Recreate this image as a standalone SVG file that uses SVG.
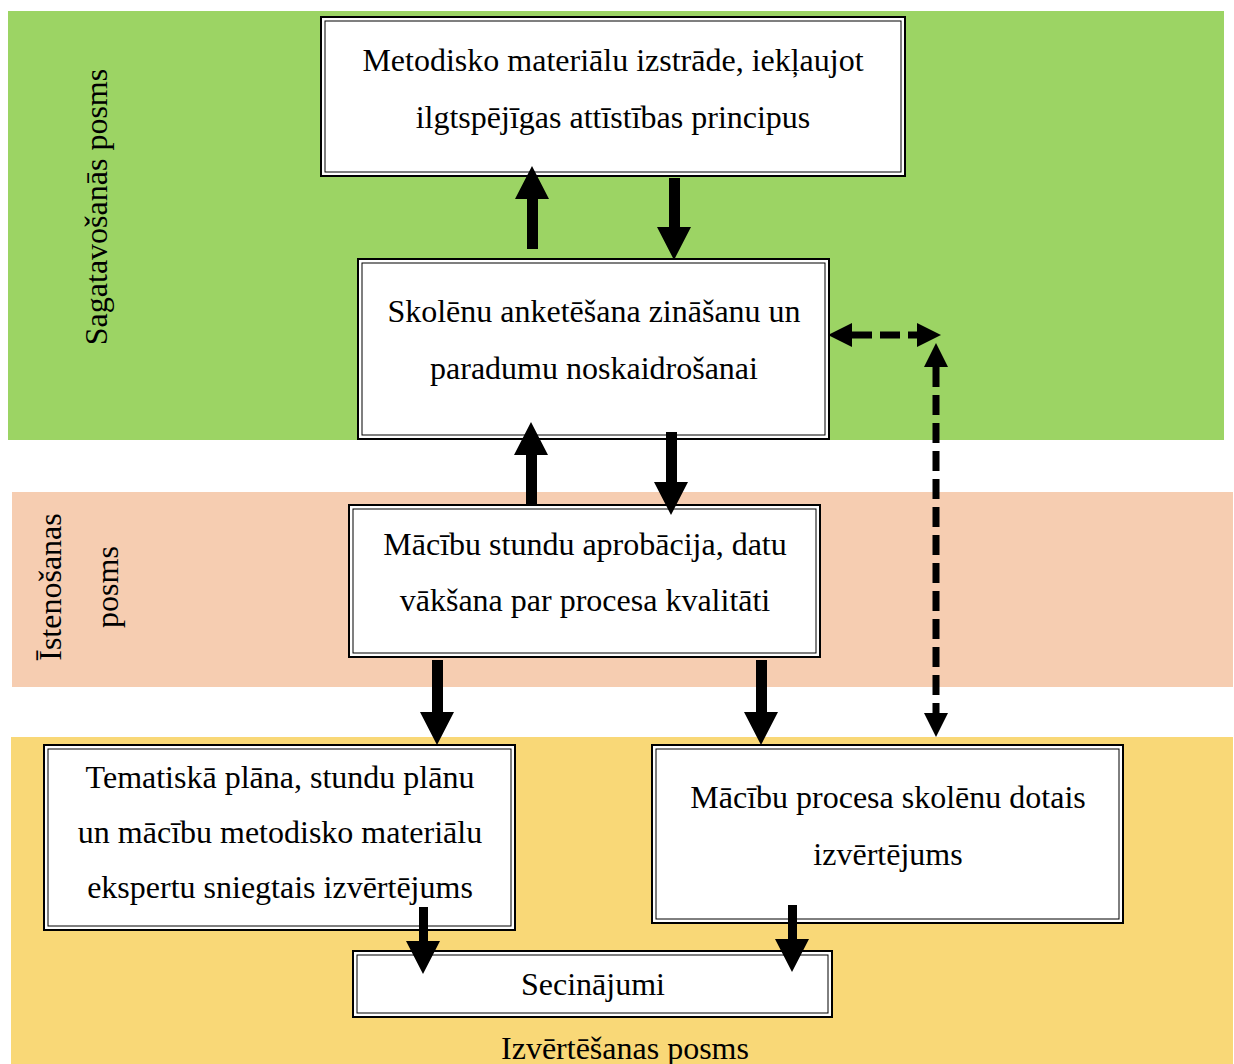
<svg xmlns="http://www.w3.org/2000/svg" width="1234" height="1064" viewBox="0 0 1234 1064">
<style>
.band-g{fill:#9cd464}
.band-p{fill:#f6cdb1}
.band-y{fill:#f9d877}
.box-o{fill:#fff;stroke:#000;stroke-width:2}
.box-i{fill:none;stroke:#000;stroke-width:1}
text{font-family:"Liberation Serif","Times New Roman",serif;font-size:32px;fill:#000}
.c{text-anchor:middle}
.arrow{fill:#000}
.dash{stroke:#000;stroke-width:7;stroke-dasharray:20 8;fill:none}
</style>
<rect width="1234" height="1064" fill="#fff"/>
<g id="bands">
<rect class="band-g" x="8" y="11" width="1216" height="429"/>
<rect class="band-p" x="12" y="492" width="1221" height="195"/>
<rect class="band-y" x="11" y="737" width="1222" height="327"/>
<text class="c" transform="translate(107,207) rotate(-90)">Sagatavošanās posms</text>
<text class="c" transform="translate(61,587) rotate(-90)">Īstenošanas</text>
<text class="c" transform="translate(118,587) rotate(-90)">posms</text>
<text class="c" x="625" y="1059">Izvērtēšanas posms</text>
</g>
<g id="node1">
<rect class="box-o" x="321" y="17" width="584" height="159"/>
<rect class="box-i" x="325" y="21" width="576" height="151"/>
<text class="c" x="613" y="71">Metodisko materiālu izstrāde, iekļaujot</text>
<text class="c" x="613" y="128">ilgtspējīgas attīstības principus</text>
</g>
<g id="node2">
<rect class="box-o" x="358" y="259" width="471" height="180"/>
<rect class="box-i" x="362" y="263" width="463" height="172"/>
<text class="c" x="594" y="322">Skolēnu anketēšana zināšanu un</text>
<text class="c" x="594" y="379">paradumu noskaidrošanai</text>
</g>
<g id="node3">
<rect class="box-o" x="349" y="505" width="471" height="152"/>
<rect class="box-i" x="353" y="509" width="463" height="144"/>
<text class="c" x="585" y="555">Mācību stundu aprobācija, datu</text>
<text class="c" x="585" y="611">vākšana par procesa kvalitāti</text>
</g>
<g id="node4">
<rect class="box-o" x="44" y="745" width="471" height="185"/>
<rect class="box-i" x="48" y="749" width="463" height="177"/>
<text class="c" x="280" y="788">Tematiskā plāna, stundu plānu</text>
<text class="c" x="280" y="843">un mācību metodisko materiālu</text>
<text class="c" x="280" y="898">ekspertu sniegtais izvērtējums</text>
</g>
<g id="node5">
<rect class="box-o" x="652" y="745" width="471" height="178"/>
<rect class="box-i" x="656" y="749" width="463" height="170"/>
<text class="c" x="888" y="808">Mācību procesa skolēnu dotais</text>
<text class="c" x="888" y="865">izvērtējums</text>
</g>
<g id="node6">
<rect class="box-o" x="353" y="951" width="479" height="66"/>
<rect class="box-i" x="357" y="955" width="471" height="58"/>
<text class="c" x="593" y="995">Secinājumi</text>
</g>
<g id="connectors">
<polygon class="arrow" points="527,249 538,249 538,199 549,199 532,166 515,199 527,199"/>
<polygon class="arrow" points="669,178 680,178 680,227 691,227 674,260 657,227 669,227"/>
<polygon class="arrow" points="526,505 537,505 537,455 548,455 531,422 514,455 526,455"/>
<polygon class="arrow" points="666,432 677,432 677,482 688,482 671,515 654,482 666,482"/>
<polygon class="arrow" points="432,660 443,660 443,712 454,712 437,745 420,712 432,712"/>
<polygon class="arrow" points="756,660 767,660 767,712 778,712 761,745 744,712 756,712"/>
<polygon class="arrow" points="419,907 428,907 428,941 440,941 423,974 406,941 419,941"/>
<polygon class="arrow" points="788,905 797,905 797,939 809,939 792,972 775,939 788,939"/>
<line class="dash" x1="852" y1="335" x2="917" y2="335"/>
<polygon class="arrow" points="828,335 852,323 852,347"/>
<polygon class="arrow" points="941,335 917,323 917,347"/>
<line class="dash" x1="936" y1="367" x2="936" y2="713" stroke-dasharray="24 10"/>
<polygon class="arrow" points="936,343 924,367 948,367"/>
<polygon class="arrow" points="936,737 924,713 948,713"/>
</g>
</svg>
